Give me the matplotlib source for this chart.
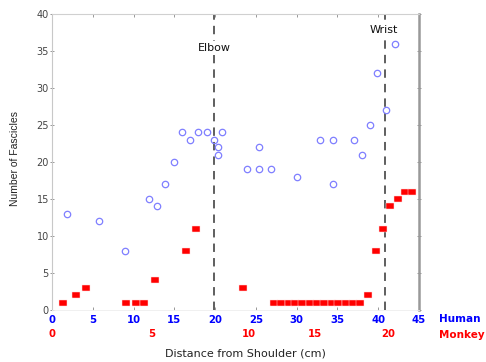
import matplotlib
matplotlib.use("Agg")
import matplotlib.pyplot as plt

# ---- data (x in shared plot units, human cm scale) ----
human_x = [1.8, 5.8, 8.9, 11.9, 12.9, 13.85, 14.9, 15.9, 16.9, 17.9, 19.0, 19.9,
           20.4, 20.4, 20.9, 23.9, 25.4, 25.4, 26.9, 30.0, 32.9, 34.5, 34.5,
           37.0, 38.0, 39.0, 39.9, 40.9, 42.0]
human_y = [13, 12, 8, 15, 14, 17, 20, 24, 23, 24, 24, 23,
           22, 21, 24, 19, 22, 19, 19, 18, 23, 23, 17,
           23, 21, 25, 32, 27, 36]

monkey_x = [1.4, 2.95, 4.2, 9.05, 10.3, 11.3, 12.6, 16.4, 17.6, 23.4,
            27.2, 28.1, 29.0, 29.8, 30.7, 31.6, 32.5, 33.4, 34.3, 35.1, 36.0, 36.9, 37.8,
            38.8, 39.7, 40.6, 41.5, 42.4, 43.3, 44.2]
monkey_y = [1, 2, 3, 1, 1, 1, 4, 8, 11, 3,
            1, 1, 1, 1, 1, 1, 1, 1, 1, 1, 1, 1, 1,
            2, 8, 11, 14, 15, 16, 16]

human_ticks = [0, 5, 10, 15, 20, 25, 30, 35, 40, 45]
human_tick_labels = ["0", "5", "10", "15", "20", "25", "30", "35", "40", "45"]
monkey_tick_pos = [0, 12.2, 24.1, 32.3, 41.2]
monkey_tick_labels = ["0", "5", "10", "15", "20"]
y_ticks = [0, 5, 10, 15, 20, 25, 30, 35, 40]

elbow_x = 19.85
wrist_x = 40.8

# ---- figure ----
W, H = 486, 362
fig = plt.figure(figsize=(W / 100, H / 100), dpi=100)
L, R, T, B = 52, 419, 14, 310
ax = fig.add_axes([L / W, 1 - B / H, (R - L) / W, (B - T) / H])
ax.set_xlim(0, 45)
ax.set_ylim(0, 40)

rect = [(-1, -0.72), (1, -0.72), (1, 0.72), (-1, 0.72), (-1, -0.72)]
ax.plot(monkey_x, monkey_y, linestyle="none", marker=rect, markersize=5.8,
        markerfacecolor="#ff0000", markeredgecolor="#ffdddd", markeredgewidth=0.35,
        zorder=3)
ax.plot(human_x, human_y, linestyle="none", marker="o", markersize=4.6,
        markerfacecolor="none", markeredgecolor="#7f7fff", markeredgewidth=0.9,
        zorder=4)

for xv in (elbow_x, wrist_x):
    ax.axvline(xv, color="#333333", lw=1.1, linestyle=(0, (5.5, 4)), zorder=2)

bb = dict(facecolor="white", edgecolor="none", pad=1.5)
ax.text(elbow_x, 35.4, "Elbow", ha="center", va="center", fontsize=8,
        color="#111111", bbox=bb, zorder=5)
ax.text(40.7, 37.8, "Wrist", ha="center", va="center", fontsize=8,
        color="#111111", bbox=bb, zorder=5)

# spines
ax.spines["left"].set_color("#c8c8c8")
ax.spines["left"].set_linewidth(0.8)
ax.spines["top"].set_color("#d0d0d0")
ax.spines["top"].set_linewidth(0.8)
ax.spines["bottom"].set_color("#eeeeee")
ax.spines["bottom"].set_linewidth(0.6)
ax.spines["right"].set_color("#999999")
ax.spines["right"].set_linewidth(1.8)

# ticks
ax.set_yticks(y_ticks)
ax.set_yticklabels([str(v) for v in y_ticks])
ax.tick_params(axis="y", which="both", left=True, right=True, direction="out",
               length=2.5, width=0.6, color="#888888", labelsize=7,
               labelcolor="#444444", pad=1)
ax.tick_params(axis="y", which="both", right=True, direction="inout")
ax.set_xticks(human_ticks)
ax.set_xticklabels(human_tick_labels)
ax.tick_params(axis="x", which="both", bottom=True, top=True, direction="in",
               length=2.5, width=0.6, color="#888888", labelsize=7.3,
               labelcolor="#0000ff", pad=3.3)
for lab in ax.get_xticklabels():
    lab.set_fontweight("bold")

trans = ax.get_xaxis_transform()
for xp, lab in zip(monkey_tick_pos, monkey_tick_labels):
    ax.text(xp, (B - 334) / (B - T), lab, transform=trans, ha="center",
            va="center", fontsize=7.3, fontweight="bold", color="#ff0000",
            clip_on=False)

fig.text(460 / W, 1 - 319.5 / H, "Human", ha="center", va="center",
         fontsize=7.5, fontweight="bold", color="#0000ff")
fig.text(462 / W, 1 - 335 / H, "Monkey", ha="center", va="center",
         fontsize=7.5, fontweight="bold", color="#ff0000")

fig.text(245 / W, 1 - 353 / H, "Distance from Shoulder (cm)", ha="center",
         va="center", fontsize=8, color="#222222")
fig.text(15 / W, 1 - 158.5 / H, "Number of Fascicles", ha="center",
         va="center", rotation=90, fontsize=7.5, color="#222222",
         family=["Liberation Sans Narrow", "Liberation Sans", "DejaVu Sans"])

fig.savefig("out.png", dpi=100)
